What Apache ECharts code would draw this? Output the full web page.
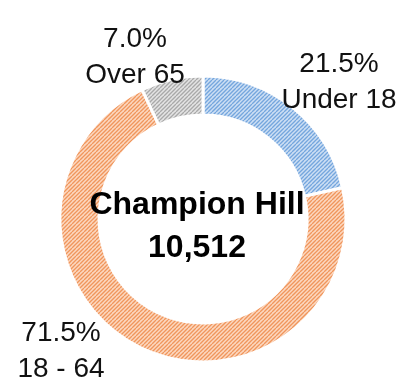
<!DOCTYPE html>
<html>
<head>
<meta charset="utf-8">
<script src="https://cdn.jsdelivr.net/npm/echarts@6/dist/echarts.min.js"></script>
<style>
  html, body { margin: 0; padding: 0; background: #fff; }
  #chart { width: 412px; height: 385px; }
</style>
</head>
<body>
<div id="chart"></div>
<script>
// Population by age group
const areaName = 'Champion Hill';
const totalPopulation = '10,512';
const ageGroups = ['Under 18', '18 - 64', 'Over 65'];
const sharePercent = [21.5, 71.5, 7.0];

// Hatch colours per slice: [background, stripe]
const hatchColors = [
  ['#cddff4', '#74a6dd'],
  ['#fcd8c0', '#f0965c'],
  ['#e4e4e4', '#a9a9a9']
];

// Label anchor points (centre of each two-line label)
const labelAnchors = [[339, 82], [61, 351], [135, 57]];

function hatch(bg, fg) {
  const size = 8;
  const c = document.createElement('canvas');
  c.width = size; c.height = size;
  const g = c.getContext('2d');
  g.fillStyle = bg;
  g.fillRect(0, 0, size, size);
  g.strokeStyle = fg;
  g.lineWidth = 1.3;
  for (let x = -size; x <= size; x += 4) {
    g.beginPath();
    g.moveTo(x, size);
    g.lineTo(x + size, 0);
    g.stroke();
  }
  return { image: c, repeat: 'repeat' };
}

const chart = echarts.init(document.getElementById('chart'), null, { renderer: 'canvas' });

chart.setOption({
  animation: false,
  series: [{
    type: 'pie',
    center: [203, 219],
    radius: [104, 143],
    startAngle: 90,
    clockwise: true,
    avoidLabelOverlap: false,
    itemStyle: { borderColor: '#ffffff', borderWidth: 3 },
    label: {
      show: true,
      position: 'outside',
      formatter: p => p.value.toFixed(1) + '%\n' + p.name,
      fontFamily: 'Liberation Sans, Arial, sans-serif',
      fontSize: 28,
      lineHeight: 36,
      color: '#111',
      align: 'center'
    },
    labelLine: { show: false },
    labelLayout: params => {
      const a = labelAnchors[params.dataIndex];
      return { x: a[0], y: a[1], align: 'center', verticalAlign: 'middle', hideOverlap: false };
    },
    emphasis: { disabled: true },
    data: ageGroups.map((name, i) => ({
      name: name,
      value: sharePercent[i],
      itemStyle: { color: hatch(hatchColors[i][0], hatchColors[i][1]) }
    }))
  }],
  graphic: [
    {
      type: 'text',
      z: 100,
      x: 197, y: 205,
      style: {
        text: areaName,
        font: 'bold 32px "Liberation Sans", Arial, sans-serif',
        fill: '#000',
        align: 'center',
        verticalAlign: 'middle'
      }
    },
    {
      type: 'text',
      z: 100,
      x: 197, y: 248,
      style: {
        text: totalPopulation,
        font: 'bold 32px "Liberation Sans", Arial, sans-serif',
        fill: '#000',
        align: 'center',
        verticalAlign: 'middle'
      }
    }
  ]
});
</script>
</body>
</html>
